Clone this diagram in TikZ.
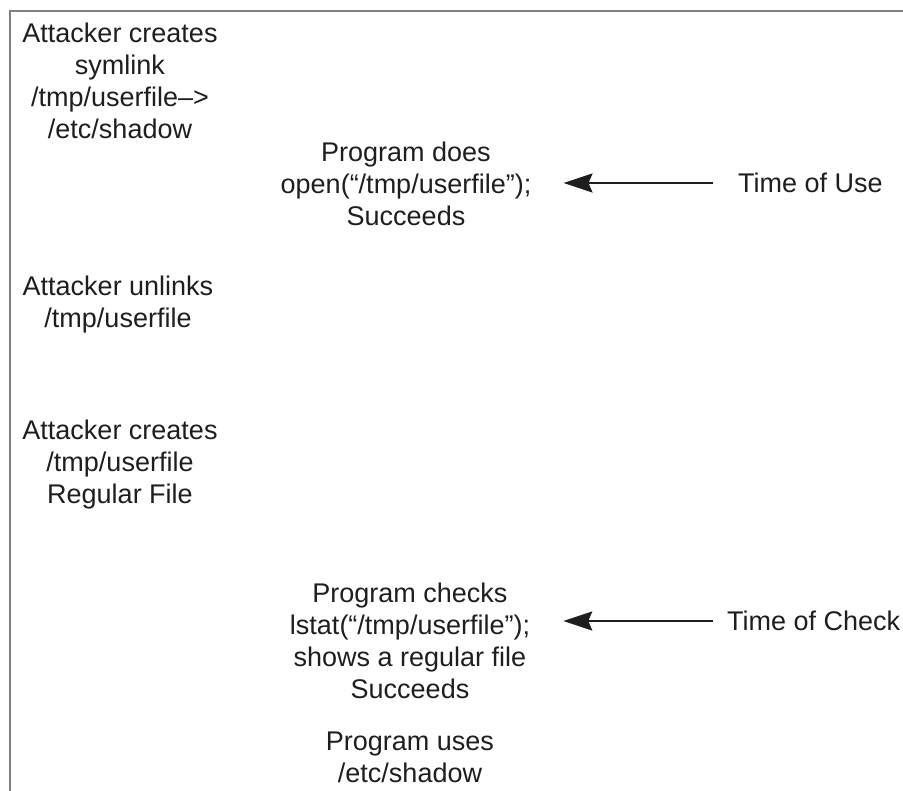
\documentclass[tikz,border=0pt]{standalone}
\usepackage{fontspec}
\setmainfont{Liberation Sans}
\usetikzlibrary{arrows.meta, positioning}
\definecolor{inkgray}{RGB}{30, 30, 30}
\definecolor{framegray}{RGB}{128, 128, 128}

\begin{document}
\begin{tikzpicture}[
    x=1pt, y=-1pt,
    event/.style={font=\fontsize{27}{32}\selectfont, text=inkgray, align=center, inner sep=0pt},
    timelabel/.style={font=\fontsize{27}{32}\selectfont, text=inkgray, anchor=west, inner sep=0pt},
    arrow/.style={-{Stealth[length=29pt, width=19pt, inset=4pt]}, line width=2.4pt, inkgray}
]

\useasboundingbox (0,0) rectangle (903,791);

% Frame
\draw [framegray, line width=2pt] (903,11) -- (10,11) -- (10,791);

% 1. Attacker steps
\node (atksym) [event] at (120,81) {Attacker creates\\symlink\\/tmp/userfile–>\\/etc/shadow};
\node (atkunlink) [event] at (118,305) {Attacker unlinks\\/tmp/userfile};
\node (atkreg) [event] at (120,465) {Attacker creates\\/tmp/userfile\\Regular File};

% 2. Program steps
\node (popen) [event] at (406,184) {Program does\\open(“/tmp/userfile”);\\Succeeds};
\node (pcheck) [event] at (410,641) {Program checks\\lstat(“/tmp/userfile”);\\shows a regular file\\Succeeds};
\node (puse) [event] at (410,757) {Program uses\\/etc/shadow};

% 3. Time markers
\node (tuse) [timelabel] at (738,183) {Time of Use};
\node (tcheck) [timelabel] at (727,621) {Time of Check};

% Connectors
\draw [arrow, shorten <=25pt, shorten >=32pt] (tuse.west) -- (tuse.west -| popen.east);
\draw [arrow, shorten <=14pt, shorten >=33pt] (tcheck.west) -- (tcheck.west -| pcheck.east);

\end{tikzpicture}
\end{document}
